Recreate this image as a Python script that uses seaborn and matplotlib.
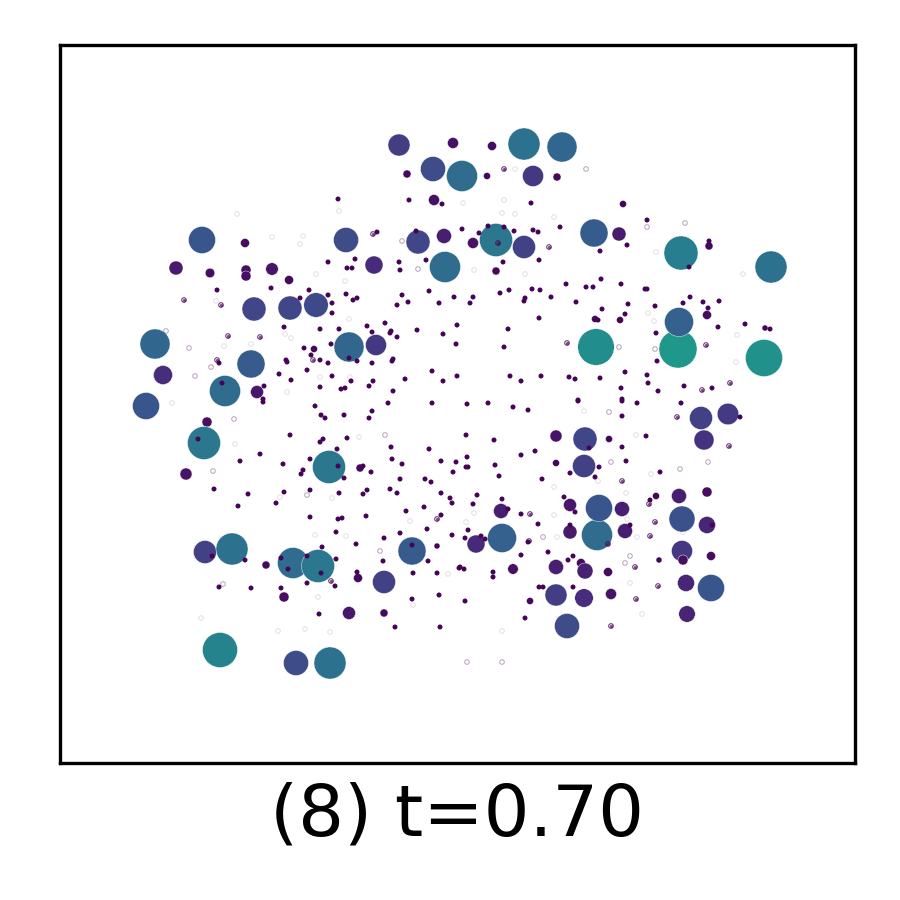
import matplotlib
matplotlib.use("Agg")
import matplotlib.pyplot as plt
import numpy as np
import pandas as pd
import seaborn as sns

# node positions, y grows downward
big_x = [399, 453, 433, 462, 407, 434, 202, 245, 346, 444, 418, 176, 210, 246, 246, 272, 289, 374, 445, 254, 290, 316,
         155, 349, 376, 251, 163, 225, 257, 146, 314,
         492, 524, 562, 533, 487, 557, 623, 496, 473, 524, 594, 619, 681, 709, 771, 496, 707, 595, 620,
         596, 678, 679, 764, 765,
         207, 204, 186, 329, 360, 205, 232, 293, 318, 266, 358, 384, 412, 284, 349, 384, 220, 296, 330, 437,
         556, 585, 609, 584, 556, 701, 728, 704, 501, 502, 476, 513, 570, 597, 599, 622, 656, 679, 707, 682,
         707, 570, 625, 682, 683, 711, 659, 556, 581, 585, 608, 686, 711, 556, 584, 611, 530, 567, 687]
big_y = [145, 143, 169, 176, 174, 200, 240, 243, 240, 236, 242, 268, 273, 270, 276, 269, 280, 265, 267, 309, 308, 305,
         344, 347, 345, 364, 375, 391, 392, 406, 349,
         146, 144, 147, 176, 176, 177, 204, 240, 243, 247, 233, 234, 253, 246, 267, 271, 315, 319, 320,
         347, 349, 322, 358, 328,
         422, 443, 474, 467, 468, 552, 549, 563, 566, 565, 578, 582, 551, 597, 613, 613, 650, 663, 663, 546,
         436, 439, 439, 466, 463, 418, 414, 440, 511, 538, 544, 569, 505, 535, 508, 509, 496, 496, 492, 519,
         525, 532, 531, 551, 560, 556, 560, 567, 563, 571, 572, 583, 588, 595, 598, 594, 601, 626, 614]
big_val = [22, 11, 25, 31, 8, 11, 27, 9, 25, 15, 24, 14, 9.5, 10, 10, 12.5, 9, 18, 31, 24, 24, 24.5,
           30, 30, 21, 28, 19, 31, 13, 27, 7,
           9, 32, 30, 21, 7, 8, 7, 33, 11, 23, 28, 14, 34, 8, 32, 8, 9, 7, 7,
           36.5, 38, 29, 37, 6,
           10, 33, 12, 33, 8, 23, 32, 31, 33, 8, 9, 23, 28, 10, 13, 8, 35, 25, 32, 6,
           12, 24, 7, 23, 7, 23, 21.5, 20, 15, 29, 18, 10.5, 13, 31, 27, 15, 7, 15, 10, 26,
           17, 14, 15, 21, 10, 9, 6, 15, 9, 16, 9, 17, 27, 22, 18.5, 11, 7, 25, 16.5]

dot_x = [338, 409, 442, 377, 416, 355, 328, 399, 426, 347, 352, 400, 217, 271, 309, 328, 346, 357, 353, 300, 332, 402,
         408, 397, 429, 439, 454, 332, 284, 320, 339, 367, 372, 385, 391, 390, 397, 417, 443, 457, 456, 331, 304, 311,
         320, 328, 349, 357, 372, 393, 392, 286, 287, 279, 291, 307, 332, 351, 373, 369, 405, 432, 443, 457, 320, 341,
         345, 393, 222, 264, 263, 219,
         531, 462, 479, 488, 504, 514, 533, 538, 560, 647, 627, 709, 600, 503, 539, 689, 601, 566, 621, 586, 593, 645,
         647, 500, 509, 532, 540, 473, 470, 525, 524, 551, 576, 628, 655, 690, 683, 703, 719, 708, 602, 625, 539, 598,
         508, 718, 745, 770, 656, 504, 657, 510, 521, 541, 569, 575, 600, 625, 647, 648, 684, 712, 621, 658, 578, 622,
         263, 315, 321, 325, 344, 372, 369, 388, 432, 290, 323, 320, 347, 198, 337, 391, 429, 260, 310, 392, 441, 456,
         240, 283, 402, 338, 363, 303, 301, 371, 453, 344, 400, 425, 431, 214, 248, 284, 310, 339, 367, 363, 390, 397,
         441, 450, 452, 276, 238, 406, 424, 310, 338, 342, 366, 441, 336, 427, 400, 452, 384, 356, 412, 322, 212, 245,
         281, 307, 336, 383, 428, 288, 321, 357, 413, 437, 459, 307, 335, 219, 251, 281, 439, 412, 319, 395, 440,
         467, 488, 513, 528, 578, 622, 637, 681, 622, 740, 466, 494, 646, 589, 622, 535, 521, 467, 626, 495, 466, 468,
         499, 599, 570, 595, 542, 660, 477, 502, 473, 650, 564, 575, 521, 508, 538, 570, 630, 468, 465, 481, 485, 528,
         548, 521, 573, 568, 460, 464, 493, 493, 539, 543, 573, 465, 525, 712]
dot_y = [199, 200, 204, 232, 231, 259, 262, 262, 260, 268, 268, 270, 290, 288, 290, 295, 294, 298, 300, 298, 303, 295,
         302, 305, 291, 303, 297, 313, 327, 329, 329, 326, 332, 323, 331, 333, 337, 330, 334, 325, 344, 344, 348, 355,
         360, 363, 358, 361, 363, 359, 361, 360, 362, 374, 380, 370, 376, 381, 381, 386, 379, 371, 381, 376, 387, 389,
         388, 391, 383, 386, 399, 363,
         203, 229, 233, 226, 227, 231, 230, 232, 227, 220, 245, 241, 251, 262, 260, 267, 279, 284, 284, 287, 287, 289,
         289, 293, 290, 289, 290, 297, 303, 298, 301, 297, 302, 304, 306, 297, 303, 302, 301, 308, 309, 314, 318, 320,
         329, 327, 324, 329, 333, 347, 361, 376, 381, 376, 377, 379, 378, 372, 375, 383, 386, 388, 388, 391, 400, 399,
         402, 406, 415, 418, 415, 411, 418, 403, 403, 435, 439, 442, 438, 439, 449, 447, 449, 454, 459, 459, 461, 462,
         461, 464, 464, 466, 466, 470, 474, 472, 472, 478, 479, 479, 482, 489, 494, 492, 490, 493, 490, 494, 489, 493,
         493, 498, 503, 503, 506, 511, 507, 517, 519, 518, 516, 515, 532, 529, 533, 535, 538, 544, 545, 547, 556, 560,
         558, 556, 559, 561, 561, 569, 573, 572, 573, 573, 568, 583, 586, 587, 588, 588, 595, 599, 614, 627, 627,
         404, 403, 407, 410, 401, 401, 403, 403, 416, 417, 435, 440, 436, 448, 447, 451, 455, 457, 461, 465, 467, 467,
         476, 467, 473, 477, 479, 472, 495, 499, 504, 500, 497, 512, 514, 509, 524, 525, 525, 530, 538, 536, 539, 542,
         552, 555, 556, 560, 567, 569, 572, 577, 587, 587, 587, 601, 618, 525]

ring_strong_x = [184, 221, 228, 260, 217, 313, 373, 504, 549, 706, 730, 702, 567, 498, 331, 437, 530, 529, 622, 729,
                 655, 650, 635, 658, 636, 611, 649, 608, 677]
ring_strong_y = [300, 305, 336, 337, 360, 360, 234, 169, 247, 345, 383, 390, 343, 243, 581, 519, 514, 541, 481, 446,
                 522, 536, 567, 586, 599, 626, 504, 544, 417]

ring_mid_x = [166, 402, 189, 211, 195, 418, 586, 647, 685, 619, 655, 234, 213, 307, 380, 385, 223, 609, 611, 708, 680,
              625, 630, 467, 502, 543]
ring_mid_y = [331, 241, 348, 367, 376, 269, 169, 227, 223, 347, 349, 419, 471, 495, 551, 435, 584, 412, 462, 462, 469,
              563, 556, 662, 662, 537]

ring_faint_x = [237, 339, 272, 303, 300, 316, 345, 216, 349, 285, 291, 224, 251, 320, 350, 287, 172,
                515, 504, 463, 502, 515, 554, 474, 525, 656, 743, 648, 654, 737, 736,
                235, 359, 280, 332, 315, 346, 318, 201, 278, 305, 330, 413, 448, 410,
                584, 636, 651, 598, 626, 554, 554, 627, 557, 637, 683, 466, 474, 630, 642, 502]
ring_faint_y = [214, 211, 237, 236, 244, 274, 281, 301, 319, 334, 338, 346, 344, 377, 377, 392, 403,
                169, 200, 203, 213, 214, 217, 270, 274, 252, 274, 313, 321, 335, 362,
                444, 437, 497, 498, 535, 536, 597, 618, 631, 629, 632, 605, 574, 521,
                411, 435, 474, 481, 493, 487, 515, 519, 537, 537, 532, 522, 513, 583, 614, 631]

title = "(8) t=0.70"

dot_val = 5.0
ring_val = 4.6
purple = "#440154"

# colour and marker area both follow the node weight
weight_max = 2738
area_max = 158


def draw_nodes(frame, lw):
    frame = frame.assign(weight=frame["val"] ** 2)
    sns.scatterplot(data=frame, x="x", y="y", hue="weight", size="weight", palette="viridis",
                    hue_norm=(0, weight_max), sizes=(0, area_max), size_norm=(0, weight_max),
                    edgecolor="w", linewidth=lw, legend=False, ax=ax)


def draw_rings(xs, ys, alpha):
    s = area_max * ring_val ** 2 / weight_max
    sns.scatterplot(x=xs, y=ys, s=s, facecolor="none", edgecolor=purple,
                    linewidth=0.25, alpha=alpha, legend=False, ax=ax)


fig = plt.figure(figsize=(3, 3), dpi=300)
ax = fig.add_axes([60 / 900, 1 - 763 / 900, 795 / 900, 718 / 900])

draw_nodes(pd.DataFrame({"x": big_x, "y": big_y, "val": big_val}), 0.1)
draw_nodes(pd.DataFrame({"x": dot_x, "y": dot_y, "val": dot_val}), 0)

draw_rings(ring_faint_x, ring_faint_y, 0.13)
draw_rings(ring_mid_x, ring_mid_y, 0.35)
draw_rings(ring_strong_x, ring_strong_y, 0.8)
sns.scatterplot(x=ring_strong_x, y=ring_strong_y, s=0.6, color=purple, linewidth=0,
                alpha=0.7, legend=False, ax=ax)

ax.set_xlim(60, 855)
ax.set_ylim(763, 45)
ax.set_xticks([])
ax.set_yticks([])
ax.set_xlabel(title, fontsize=17.3, labelpad=4.5)
ax.set_ylabel("")

fig.savefig("out.png", dpi=300)
